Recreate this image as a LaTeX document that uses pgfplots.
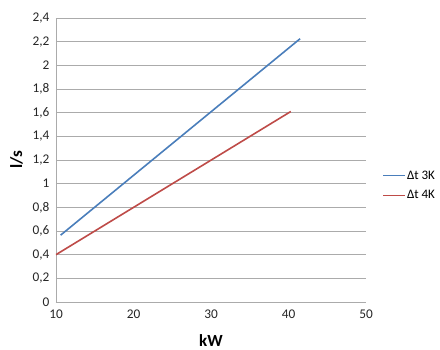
\documentclass[border=0pt]{standalone}
\usepackage{pgfplots}
\pgfplotsset{compat=1.18}
\usepackage{fontspec}
\setmainfont{Carlito}
\definecolor{serA}{HTML}{4A7EBB}
\definecolor{serB}{HTML}{BE4B48}
\definecolor{gridc}{HTML}{ABABAB}
\begin{document}
\begin{tikzpicture}
\begin{axis}[
  at={(56pt,47pt)}, anchor=south west,
  scale only axis, width=310pt, height=284pt,
  xmin=10, xmax=50, ymin=0, ymax=2.4,
  xtick={10,20,30,40,50},
  ytick={0,0.2,...,2.41},
  ymajorgrids, grid style={gridc, line width=0.9pt},
  axis x line*=bottom, axis y line*=left,
  axis line style={gridc, line width=0.9pt, -},
  major tick length=0pt,
  tick label style={font=\fontsize{13.3}{15}\selectfont, text=black!85},
  /pgf/number format/use comma,
  /pgf/number format/assume math mode=true,
  yticklabel style={xshift=-3pt},
  xticklabel style={yshift=-4pt},
  xlabel={\textbf{kW}}, ylabel={\textbf{l/s}},
  label style={font=\fontsize{17}{20}\selectfont},
  xlabel style={yshift=-9pt},
  ylabel style={yshift=3pt},
  legend style={draw=none, fill=none, at={(1.052,0.41)}, anchor=west,
    inner sep=0pt, nodes={inner xsep=1pt, inner ysep=2pt},
    font=\fontsize{13}{15}\selectfont, row sep=6pt},
  legend cell align=left,
  legend image code/.code={\draw[#1, line width=1.7pt] (0pt,0pt) -- (22pt,0pt);},
]
\addplot[serA, line width=1.6pt] coordinates {(10.6,0.565) (41.5,2.225)};
\addlegendentry{Δt 3K}
\addplot[serB, line width=1.6pt] coordinates {(10,0.40) (40.3,1.61)};
\addlegendentry{Δt 4K}
\end{axis}
\pgfresetboundingbox
\useasboundingbox (0pt,0pt) rectangle (440pt,349pt);
\end{tikzpicture}
\end{document}
